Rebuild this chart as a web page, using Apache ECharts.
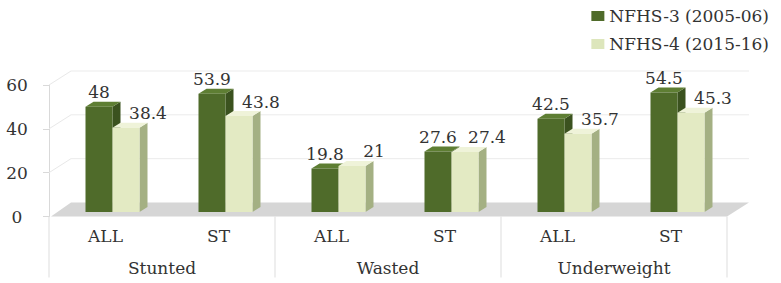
<!DOCTYPE html>
<html><head><meta charset="utf-8">
<script src="https://cdn.jsdelivr.net/npm/echarts@6/dist/echarts.min.js"></script>
<style>html,body{margin:0;padding:0;background:#fff}#c{width:781px;height:283px}</style>
</head><body><div id="c"></div>
<script>
// ---- data ----
const categories = ['ALL', 'ST', 'ALL', 'ST', 'ALL', 'ST'];
const groups = ['Stunted', 'Wasted', 'Underweight'];
const seriesNames = ['NFHS-3 (2005-06)', 'NFHS-4 (2015-16)'];
const nfhs3 = [48, 53.9, 19.8, 27.6, 42.5, 54.5];
const nfhs4 = [38.4, 43.8, 21, 27.4, 35.7, 45.3];
const yTicks = [0, 20, 40, 60];

// ---- style ----
const FONT_FAMILY = '"DejaVu Serif", serif';
const FS = 17;
const TXT = '#333333';
const WALL = [22, -14];
const BAR_OFF = [7, -4.5];
const BAR_DEPTH = [8, -5];
const BAR_W = 27;
const palette = [
  { front: '#4F6B2A', top: '#5E7E33', side: '#3B521F', legend: '#4F6B2A' },
  { front: '#E3EAC3', top: '#EFF3D9', side: '#A4B083', legend: '#DDE6BC' }
];

function poly(points, fill) {
  return { type: 'polygon', shape: { points: points }, style: { fill: fill, stroke: null } };
}

function barRender(si) {
  return function (params, api) {
    const i = api.value(0), v = api.value(1);
    const top = api.coord([i, v]);
    const base = api.coord([i, 0]);
    const cx = top[0] + BAR_OFF[0];
    const x0 = si === 0 ? cx - BAR_W : cx;
    const x1 = x0 + BAR_W;
    const yt = top[1] + BAR_OFF[1];
    const yb = base[1] + BAR_OFF[1];
    const dx = BAR_DEPTH[0], dy = BAR_DEPTH[1];
    const c = palette[si];
    const label = String(v);
    const lx = (x0 + x1) / 2 + (si === 0 ? 0 : 22);
    return {
      type: 'group',
      children: [
        poly([[x1, yb], [x1 + dx, yb + dy], [x1 + dx, yt + dy], [x1, yt]], c.side),
        poly([[x0, yt], [x1, yt], [x1 + dx, yt + dy], [x0 + dx, yt + dy]], c.top),
        poly([[x0, yb], [x1, yb], [x1, yt], [x0, yt]], c.front),
        {
          type: 'text',
          style: {
            text: label, x: lx, y: yt + dy - 9.5,
            align: 'center', verticalAlign: 'middle',
            font: FS + 'px ' + FONT_FAMILY, fill: TXT
          }
        }
      ]
    };
  };
}

function frameRender(params, api) {
  const band = api.size([1, 0])[0];
  const left = api.coord([0, 0])[0] - band / 2;
  const right = api.coord([categories.length - 1, 0])[0] + band / 2;
  const y0 = api.coord([0, 0])[1];
  const children = [];
  // back wall + side wall gridlines
  yTicks.forEach(function (t) {
    const y = api.coord([0, t])[1];
    if (t !== 0) {
      children.push({ type: 'line', shape: { x1: left, y1: y, x2: left + WALL[0], y2: y + WALL[1] },
        style: { stroke: '#E8E8E8', lineWidth: 1 } });
      children.push({ type: 'line', shape: { x1: left + WALL[0], y1: y + WALL[1], x2: right + WALL[0], y2: y + WALL[1] },
        style: { stroke: '#EBEBEB', lineWidth: 1 } });
    }
  });
  // floor
  children.push(poly([[left + 2, y0], [right, y0], [right + WALL[0], y0 + WALL[1]], [left + WALL[0], y0 + WALL[1]]], '#D6D6D6'));
  // group separators and labels
  for (let g = 0; g <= groups.length; g++) {
    const x = left + g * 2 * band;
    children.push({ type: 'line', shape: { x1: x, y1: y0, x2: x, y2: y0 + 61 },
      style: { stroke: '#DDDDDD', lineWidth: 1 } });
  }
  groups.forEach(function (name, g) {
    const x = (api.coord([2 * g, 0])[0] + api.coord([2 * g + 1, 0])[0]) / 2;
    children.push({ type: 'text', style: { text: name, x: x, y: y0 + 51, align: 'center', verticalAlign: 'middle',
      font: FS + 'px ' + FONT_FAMILY, fill: TXT } });
  });
  return { type: 'group', children: children };
}

const chart = echarts.init(document.getElementById('c'), null, { renderer: 'svg' });
chart.setOption({
  animation: false,
  backgroundColor: '#fff',
  grid: { left: 49, right: 54, top: 85, bottom: 66.5, containLabel: false },
  legend: {
    data: seriesNames, orient: 'vertical', right: 7, top: 1,
    icon: 'rect', itemWidth: 13, itemHeight: 10, itemGap: 8,
    textStyle: { fontFamily: FONT_FAMILY, fontSize: FS, color: TXT, lineHeight: 20 }
  },
  xAxis: {
    type: 'category', data: categories,
    axisLine: { show: false }, axisTick: { show: false },
    axisLabel: { margin: 11, fontFamily: FONT_FAMILY, fontSize: FS, color: TXT }
  },
  yAxis: {
    type: 'value', min: 0, max: 60, interval: 20,
    axisLine: { show: true, lineStyle: { color: '#D9D9D9' } },
    axisTick: { show: true, length: 6, lineStyle: { color: '#D9D9D9' } },
    splitLine: { show: false },
    axisLabel: { margin: 32, align: 'center', fontFamily: FONT_FAMILY, fontSize: FS, color: TXT }
  },
  series: [
    { type: 'custom', name: 'frame', z: 1, silent: true, renderItem: frameRender, data: [[0, 0]] },
    { type: 'custom', name: seriesNames[0], z: 3, itemStyle: { color: palette[0].legend },
      renderItem: barRender(0), data: nfhs3.map(function (v, i) { return [i, v]; }) },
    { type: 'custom', name: seriesNames[1], z: 4, itemStyle: { color: palette[1].legend },
      renderItem: barRender(1), data: nfhs4.map(function (v, i) { return [i, v]; }) }
  ]
});
</script>
</body></html>
